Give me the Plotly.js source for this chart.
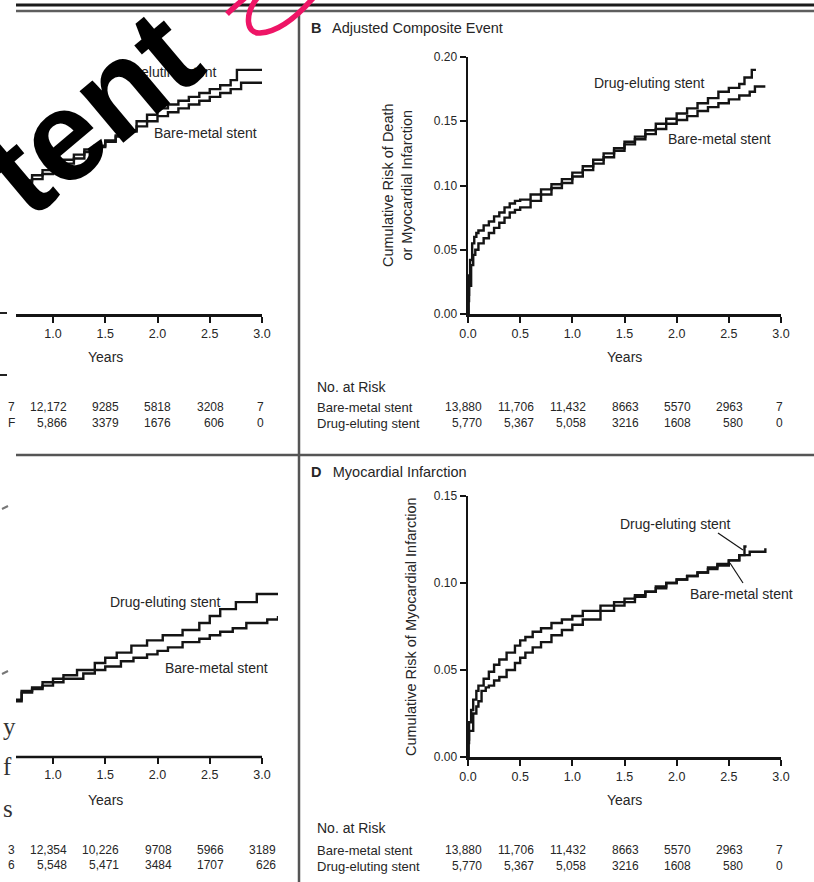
<!DOCTYPE html>
<html><head><meta charset="utf-8">
<script src="https://cdn.plot.ly/plotly-3.0.1.min.js"></script>
<style>html,body{margin:0;padding:0;background:#fff}#chart{width:814px;height:882px}</style>
</head><body><div id="chart"></div>
<script>
// ---------------- DATA ----------------
// Panel A (partly cropped): composite event
const aDesT = [0.646, 0.70, 0.80, 0.90, 1.00, 1.10, 1.20, 1.30, 1.40, 1.50, 1.60, 1.70, 1.80, 1.90, 2.00, 2.10, 2.20, 2.30, 2.40, 2.50, 2.60, 2.70, 2.76, 3.00];
const aDesR = [0.101, 0.104, 0.108, 0.112, 0.116, 0.120, 0.124, 0.128, 0.131, 0.135, 0.139, 0.143, 0.150, 0.155, 0.160, 0.163, 0.166, 0.169, 0.172, 0.175, 0.178, 0.182, 0.190, 0.190];
const aBmsT = [0.646, 0.70, 0.80, 0.90, 1.00, 1.10, 1.20, 1.30, 1.40, 1.50, 1.60, 1.70, 1.80, 1.90, 2.00, 2.10, 2.20, 2.30, 2.40, 2.50, 2.60, 2.70, 2.80, 3.00];
const aBmsR = [0.098, 0.101, 0.105, 0.109, 0.113, 0.117, 0.121, 0.126, 0.130, 0.134, 0.138, 0.142, 0.146, 0.150, 0.154, 0.157, 0.160, 0.163, 0.166, 0.169, 0.172, 0.175, 0.180, 0.180];
// Panel B: adjusted composite event
const bDesT = [0, 0.005, 0.01, 0.02, 0.04, 0.06, 0.08, 0.10, 0.15, 0.20, 0.25, 0.30, 0.35, 0.40, 0.45, 0.50, 0.60, 0.70, 0.80, 0.90, 1.00, 1.10, 1.20, 1.30, 1.40, 1.50, 1.60, 1.70, 1.80, 1.90, 2.00, 2.10, 2.20, 2.30, 2.40, 2.50, 2.60, 2.65, 2.72, 2.76];
const bDesR = [0, 0.015, 0.030, 0.042, 0.055, 0.060, 0.063, 0.065, 0.069, 0.072, 0.076, 0.079, 0.083, 0.086, 0.088, 0.089, 0.093, 0.097, 0.101, 0.105, 0.110, 0.115, 0.120, 0.125, 0.129, 0.134, 0.138, 0.143, 0.148, 0.152, 0.156, 0.160, 0.164, 0.168, 0.173, 0.176, 0.179, 0.184, 0.190, 0.190];
const bBmsT = [0, 0.005, 0.01, 0.03, 0.05, 0.07, 0.10, 0.15, 0.20, 0.25, 0.30, 0.35, 0.40, 0.45, 0.50, 0.60, 0.70, 0.80, 0.90, 1.00, 1.10, 1.20, 1.30, 1.40, 1.50, 1.60, 1.70, 1.80, 1.90, 2.00, 2.10, 2.20, 2.30, 2.40, 2.50, 2.60, 2.70, 2.75, 2.85];
const bBmsR = [0, 0.010, 0.022, 0.038, 0.046, 0.050, 0.055, 0.059, 0.063, 0.067, 0.071, 0.075, 0.079, 0.081, 0.083, 0.088, 0.093, 0.098, 0.102, 0.107, 0.112, 0.117, 0.122, 0.127, 0.132, 0.136, 0.140, 0.144, 0.148, 0.151, 0.154, 0.158, 0.161, 0.164, 0.167, 0.170, 0.173, 0.177, 0.177];
// Panel C (partly cropped)
const cDesT = [0.646, 0.70, 0.80, 0.90, 1.00, 1.10, 1.23, 1.40, 1.50, 1.61, 1.75, 1.90, 2.05, 2.24, 2.40, 2.50, 2.60, 2.75, 2.95, 3.153];
const cDesR = [0.033, 0.038, 0.040, 0.043, 0.045, 0.047, 0.050, 0.054, 0.057, 0.060, 0.064, 0.067, 0.070, 0.073, 0.077, 0.081, 0.085, 0.089, 0.0937, 0.0937];
const cBmsT = [0.646, 0.70, 0.80, 0.90, 1.00, 1.10, 1.29, 1.40, 1.50, 1.65, 1.77, 1.90, 2.00, 2.10, 2.24, 2.40, 2.50, 2.60, 2.72, 2.85, 3.05, 3.153];
const cBmsR = [0.032, 0.037, 0.039, 0.041, 0.043, 0.045, 0.048, 0.050, 0.052, 0.055, 0.057, 0.059, 0.061, 0.063, 0.066, 0.068, 0.070, 0.072, 0.074, 0.077, 0.079, 0.081];
// Panel D: myocardial infarction
const dDesT = [0, 0.005, 0.01, 0.03, 0.05, 0.08, 0.10, 0.15, 0.20, 0.25, 0.30, 0.37, 0.45, 0.50, 0.55, 0.62, 0.70, 0.80, 0.90, 1.00, 1.10, 1.27, 1.40, 1.50, 1.60, 1.70, 1.80, 1.90, 2.00, 2.10, 2.20, 2.30, 2.39, 2.50, 2.60, 2.65, 2.67];
const dDesR = [0, 0.010, 0.020, 0.027, 0.033, 0.038, 0.041, 0.045, 0.049, 0.053, 0.056, 0.060, 0.064, 0.067, 0.069, 0.072, 0.074, 0.077, 0.079, 0.081, 0.084, 0.087, 0.089, 0.091, 0.093, 0.095, 0.098, 0.100, 0.102, 0.104, 0.106, 0.109, 0.111, 0.113, 0.116, 0.121, 0.121];
const dBmsT = [0, 0.005, 0.01, 0.05, 0.08, 0.10, 0.13, 0.17, 0.20, 0.25, 0.30, 0.37, 0.45, 0.50, 0.55, 0.62, 0.70, 0.80, 0.90, 1.00, 1.10, 1.27, 1.40, 1.50, 1.60, 1.70, 1.80, 1.90, 2.00, 2.10, 2.20, 2.30, 2.39, 2.50, 2.60, 2.70, 2.85];
const dBmsR = [0, 0.008, 0.015, 0.025, 0.029, 0.032, 0.038, 0.040, 0.041, 0.044, 0.046, 0.050, 0.054, 0.057, 0.060, 0.063, 0.066, 0.070, 0.073, 0.076, 0.079, 0.084, 0.087, 0.089, 0.092, 0.095, 0.097, 0.100, 0.102, 0.104, 0.106, 0.108, 0.110, 0.113, 0.116, 0.118, 0.120];

// Tick labels
const xTickValsFull = [0, 0.5, 1.0, 1.5, 2.0, 2.5, 3.0];
const xTickTextFull = ['0.0', '0.5', '1.0', '1.5', '2.0', '2.5', '3.0'];
const xTickValsCrop = [1.0, 1.5, 2.0, 2.5, 3.0];
const xTickTextCrop = ['1.0', '1.5', '2.0', '2.5', '3.0'];
const yTickValsB = [0, 0.05, 0.10, 0.15, 0.20];
const yTickTextB = ['0.00', '0.05', '0.10', '0.15', '0.20'];
const yTickValsD = [0, 0.05, 0.10, 0.15];
const yTickTextD = ['0.00', '0.05', '0.10', '0.15'];

// Numbers at risk
const riskTimesFull = [0, 0.5, 1.0, 1.5, 2.0, 2.5, 3.0];
const riskTimesCrop = [0.5, 1.0, 1.5, 2.0, 2.5, 3.0];
const aRiskBms = ['7', '12,172', '9285', '5818', '3208', '7'];
const aRiskDes = ['F', '5,866', '3379', '1676', '606', '0'];
const bRiskBms = ['13,880', '11,706', '11,432', '8663', '5570', '2963', '7'];
const bRiskDes = ['5,770', '5,367', '5,058', '3216', '1608', '580', '0'];
const cRiskBms = ['3', '12,354', '10,226', '9708', '5966', '3189'];
const cRiskDes = ['6', '5,548', '5,471', '3484', '1707', '626'];
const dRiskBms = ['13,880', '11,706', '11,432', '8663', '5570', '2963', '7'];
const dRiskDes = ['5,770', '5,367', '5,058', '3216', '1608', '580', '0'];

const seriesNames = ['Bare-metal stent', 'Drug-eluting stent'];

// ---------------- LAYOUT HELPERS ----------------
const W = 814, H = 882;
const FONT = '"Liberation Sans", Arial, sans-serif';
const INK = '#141414';
const TXT = '#262626';
const PX = x => x / W;
const PY = y => 1 - y / H;

const panels = {
  A: {xdom: [16, 262], xr: [0.646, 3.0], ydom: [314, 57], yr: [0, 0.20]},
  B: {xdom: [468, 781], xr: [0, 3.0], ydom: [314, 57], yr: [0, 0.20]},
  C: {xdom: [16, 278], xr: [0.646, 3.153], ydom: [757, 496], yr: [0, 0.15]},
  D: {xdom: [468, 781], xr: [0, 3.0], ydom: [757, 496], yr: [0, 0.15]}
};
function xPaper(p, t) {
  const P = panels[p];
  return PX(P.xdom[0] + (t - P.xr[0]) / (P.xr[1] - P.xr[0]) * (P.xdom[1] - P.xdom[0]));
}

function xaxisCfg(p, anchor, tv, tt, showline) {
  const P = panels[p];
  return {
    domain: [PX(P.xdom[0]), PX(P.xdom[1])], range: P.xr, anchor: anchor,
    tickmode: 'array', tickvals: tv, ticktext: tt,
    showline: showline, linewidth: 2.5, linecolor: INK,
    ticks: 'outside', ticklen: 6, tickwidth: 2, tickcolor: INK,
    showgrid: false, zeroline: false, fixedrange: true,
    tickfont: {family: FONT, size: 12.5, color: TXT}
  };
}
function yaxisCfg(p, anchor, tv, tt, visible) {
  const P = panels[p];
  return {
    domain: [PY(P.ydom[0]), PY(P.ydom[1])], range: P.yr, anchor: anchor, visible: visible,
    tickmode: 'array', tickvals: tv || [], ticktext: tt || [],
    showline: true, linewidth: 2.5, linecolor: INK,
    ticks: 'outside', ticklen: 6, tickwidth: 2, tickcolor: INK,
    showgrid: false, zeroline: false, fixedrange: true,
    tickfont: {family: FONT, size: 12, color: TXT}
  };
}

function km(t, r, xa, ya, name) {
  return {x: t, y: r, xaxis: xa, yaxis: ya, name: name, type: 'scatter', mode: 'lines',
    line: {shape: 'hv', color: INK, width: 2.4}, hoverinfo: 'skip', showlegend: false};
}

const traces = [
  km(aBmsT, aBmsR, 'x', 'y', seriesNames[0]), km(aDesT, aDesR, 'x', 'y', seriesNames[1]),
  km(bBmsT, bBmsR, 'x2', 'y2', seriesNames[0]), km(bDesT, bDesR, 'x2', 'y2', seriesNames[1]),
  km(cBmsT, cBmsR, 'x3', 'y3', seriesNames[0]), km(cDesT, cDesR, 'x3', 'y3', seriesNames[1]),
  km(dBmsT, dBmsR, 'x4', 'y4', seriesNames[0]), km(dDesT, dDesR, 'x4', 'y4', seriesNames[1])
];

const ann = [];
function txt(text, x, y, o) {
  ann.push(Object.assign({text: text, x: x, y: y, xref: 'paper', yref: 'paper', showarrow: false,
    xanchor: 'center', yanchor: 'middle', font: {family: FONT, size: 14, color: TXT}}, o || {}));
}
function dataTxt(text, xref, yref, x, y, o) {
  ann.push(Object.assign({text: text, x: x, y: y, xref: xref, yref: yref, showarrow: false,
    xanchor: 'center', yanchor: 'middle', font: {family: FONT, size: 14, color: TXT}}, o || {}));
}

// Panel titles
txt('<b>B</b>\u2002 Adjusted Composite Event', PX(309), PY(28), {xanchor: 'left', font: {family: FONT, size: 14.5, color: TXT}});
txt('<b>D</b>\u2002 Myocardial Infarction', PX(309), PY(472), {xanchor: 'left', font: {family: FONT, size: 14.5, color: TXT}});

// Axis titles
['A', 'B'].forEach(p => txt('Years', xPaper(p, 1.5), PY(357)));
['C', 'D'].forEach(p => txt('Years', xPaper(p, 1.5), PY(800)));
txt('Cumulative Risk of Death<br>or Myocardial Infarction', PX(397), PY(185), {textangle: -90, font: {family: FONT, size: 14.5, color: TXT}});
txt('Cumulative Risk of Myocardial Infarction', PX(411), PY(627), {textangle: -90, font: {family: FONT, size: 14.5, color: TXT}});

// Curve labels
dataTxt(seriesNames[1], 'x', 'y', 2.043, 0.188);
dataTxt(seriesNames[0], 'x', 'y', 2.464, 0.141);
dataTxt(seriesNames[1], 'x2', 'y2', 1.744, 0.180);
dataTxt(seriesNames[0], 'x2', 'y2', 2.415, 0.136);
dataTxt(seriesNames[1], 'x3', 'y3', 2.072, 0.089);
dataTxt(seriesNames[0], 'x3', 'y3', 2.56, 0.051);
dataTxt(seriesNames[1], 'x4', 'y4', 1.984, 0.134);
dataTxt(seriesNames[0], 'x4', 'y4', 2.626, 0.0937);

// Numbers at risk
function riskRow(p, times, vals, ypx) {
  vals.forEach((v, i) => {
    const last = i === vals.length - 1 && v.length === 1;
    txt(v, xPaper(p, times[i]), PY(ypx), last
      ? {xanchor: 'center', xshift: -2, font: {family: FONT, size: 12, color: TXT}}
      : {xanchor: 'right', xshift: 16, font: {family: FONT, size: 12, color: TXT}});
  });
}
riskRow('A', riskTimesCrop, aRiskBms, 407);
riskRow('A', riskTimesCrop, aRiskDes, 423);
riskRow('B', riskTimesFull, bRiskBms, 407);
riskRow('B', riskTimesFull, bRiskDes, 423);
riskRow('C', riskTimesCrop, cRiskBms, 850);
riskRow('C', riskTimesCrop, cRiskDes, 865);
riskRow('D', riskTimesFull, dRiskBms, 850);
riskRow('D', riskTimesFull, dRiskDes, 866);
[[387, 407, 423], [828, 850, 866]].forEach(r => {
  txt('No. at Risk', PX(315), PY(r[0]), {xanchor: 'left'});
  txt(seriesNames[0], PX(315), PY(r[1]), {xanchor: 'left', font: {family: FONT, size: 13, color: TXT}});
  txt(seriesNames[1], PX(315), PY(r[2]), {xanchor: 'left', font: {family: FONT, size: 13, color: TXT}});
});

// Fragments of neighbouring page text at the left edge
[['y', 726], ['f', 766], ['s', 808]].forEach(a => txt(a[0], PX(1), PY(a[1]), {xanchor: 'left',
  font: {family: '"Liberation Serif", "DejaVu Serif", serif', size: 25, color: '#333'}}));

// Overlaid big word
txt('tent', PX(90), PY(112), {textangle: -40, font: {family: FONT, size: 128, color: '#000', weight: 700}});

// ---------------- SHAPES ----------------
function pth(s) { return s.replace(/(-?[\d.]+)\s+(-?[\d.]+)/g, (m, a, b) => (a / W).toFixed(5) + ',' + (1 - b / H).toFixed(5)); }
function pline(x0, y0, x1, y1, color, width) {
  return {type: 'line', xref: 'paper', yref: 'paper', x0: PX(x0), y0: PY(y0), x1: PX(x1), y1: PY(y1),
    line: {color: color, width: width}, layer: 'above'};
}
const shapes = [
  pline(16, 5, 814, 5, '#1b1b1b', 3),
  pline(16, 11, 814, 11, '#5e5e5e', 2.5),
  pline(299, 11, 299, 882, '#555', 2.5),
  pline(16, 455, 814, 455, '#555', 2.5),
  // x axis line of panel C ends at 3.0 while its curves run on
  {type: 'line', xref: 'paper', yref: 'paper', x0: xPaper('C', panels.C.xr[0]), x1: xPaper('C', 3.0),
    y0: PY(757), y1: PY(757), line: {color: INK, width: 2.5}},
  // leader lines, panel D
  {type: 'line', xref: 'x4', yref: 'y4', x0: 2.396, y0: 0.1287, x1: 2.636, y1: 0.119, line: {color: INK, width: 1.2}},
  {type: 'line', xref: 'x4', yref: 'y4', x0: 2.636, y0: 0.100, x1: 2.511, y1: 0.1115, line: {color: INK, width: 1.2}},
  // stray marks at the left edge
  pline(0, 313, 7, 313, '#222', 2), pline(0, 375, 7, 375, '#222', 2),
  pline(2, 509, 8, 506, '#777', 2), pline(2, 674, 8, 671, '#777', 2),
  // pink scribble
  {type: 'path', xref: 'paper', yref: 'paper', path: pth('M 227 14 C 232 9 238 4 246 -3'),
    line: {color: '#ee1566', width: 5.5}, layer: 'above'},
  {type: 'path', xref: 'paper', yref: 'paper', path: pth('M 258 -3 C 244 14 246 34 260 33 C 278 32 296 18 314 -3'),
    line: {color: '#ee1566', width: 5.5}, layer: 'above'}
];

const layout = {
  width: W, height: H, margin: {l: 0, r: 0, t: 0, b: 0},
  paper_bgcolor: '#fff', plot_bgcolor: 'rgba(0,0,0,0)', showlegend: false,
  font: {family: FONT, color: TXT},
  xaxis: xaxisCfg('A', 'y', xTickValsCrop, xTickTextCrop, true),
  yaxis: yaxisCfg('A', 'x', null, null, false),
  xaxis2: xaxisCfg('B', 'y2', xTickValsFull, xTickTextFull, true),
  yaxis2: yaxisCfg('B', 'x2', yTickValsB, yTickTextB, true),
  xaxis3: xaxisCfg('C', 'y3', xTickValsCrop, xTickTextCrop, false),
  yaxis3: yaxisCfg('C', 'x3', null, null, false),
  xaxis4: xaxisCfg('D', 'y4', xTickValsFull, xTickTextFull, true),
  yaxis4: yaxisCfg('D', 'x4', yTickValsD, yTickTextD, true),
  annotations: ann, shapes: shapes
};

Plotly.newPlot('chart', traces, layout, {staticPlot: true, displayModeBar: false});
</script>
</body></html>
